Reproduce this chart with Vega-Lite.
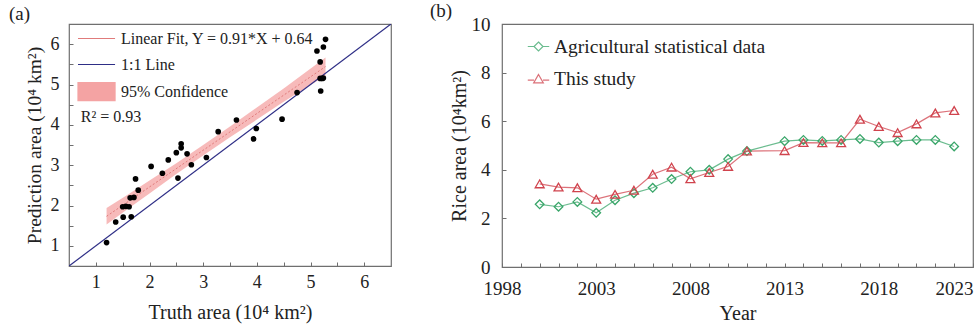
{
  "$schema": "https://vega.github.io/schema/vega-lite/v6.json",
  "padding": {"left": 8, "top": 1, "right": 0, "bottom": 0},
  "bounds": "flush",
  "resolve": {"scale": {"color": "independent", "shape": "independent"}, "legend": {"color": "independent", "shape": "independent"}},
  "config": {
    "font": "Liberation Serif",
    "view": {"stroke": "#6f6f6f", "strokeWidth": 1.2},
    "axis": {"grid": false, "domain": false, "labelFont": "Liberation Serif", "titleFont": "Liberation Serif", "labelColor": "#222", "titleColor": "#222", "titleFontWeight": "normal", "tickColor": "#6f6f6f", "tickSize": -4, "labelOverlap": false, "labelFlush": false},
    "legend": {"labelFont": "Liberation Serif", "labelColor": "#222", "labelLimit": 400},
    "title": {"font": "Liberation Serif", "fontWeight": "normal", "color": "#222"}
  },
  "datasets": {
    "scatter": [
      {"truth": 1.20, "pred": 1.08}, {"truth": 1.37, "pred": 1.59}, {"truth": 1.51, "pred": 1.71},
      {"truth": 1.50, "pred": 1.97}, {"truth": 1.56, "pred": 1.98}, {"truth": 1.62, "pred": 1.97},
      {"truth": 1.66, "pred": 1.72}, {"truth": 1.64, "pred": 2.19}, {"truth": 1.71, "pred": 2.20},
      {"truth": 1.74, "pred": 2.66}, {"truth": 1.79, "pred": 2.38}, {"truth": 2.03, "pred": 2.97},
      {"truth": 2.24, "pred": 2.80}, {"truth": 2.35, "pred": 3.13}, {"truth": 2.50, "pred": 3.31},
      {"truth": 2.53, "pred": 2.68}, {"truth": 2.59, "pred": 3.53}, {"truth": 2.59, "pred": 3.43},
      {"truth": 2.70, "pred": 3.28}, {"truth": 2.78, "pred": 3.01}, {"truth": 3.06, "pred": 3.19},
      {"truth": 3.28, "pred": 3.83}, {"truth": 3.62, "pred": 4.12}, {"truth": 3.94, "pred": 3.65},
      {"truth": 3.99, "pred": 3.91}, {"truth": 4.47, "pred": 4.14}, {"truth": 4.75, "pred": 4.80},
      {"truth": 5.12, "pred": 5.83}, {"truth": 5.18, "pred": 5.56}, {"truth": 5.19, "pred": 4.84},
      {"truth": 5.18, "pred": 5.15}, {"truth": 5.22, "pred": 5.15}, {"truth": 5.24, "pred": 5.16},
      {"truth": 5.24, "pred": 5.93}, {"truth": 5.28, "pred": 6.12}
    ],
    "band": [
      {"truth": 1.20, "lo": 1.53, "hi": 1.94}, {"truth": 1.60, "lo": 1.92, "hi": 2.27},
      {"truth": 2.00, "lo": 2.30, "hi": 2.62}, {"truth": 2.50, "lo": 2.78, "hi": 3.05},
      {"truth": 3.00, "lo": 3.24, "hi": 3.50}, {"truth": 3.50, "lo": 3.69, "hi": 3.96},
      {"truth": 4.00, "lo": 4.13, "hi": 4.43}, {"truth": 4.50, "lo": 4.57, "hi": 4.90},
      {"truth": 5.28, "lo": 5.22, "hi": 5.67}
    ],
    "fit": [{"truth": 1.20, "pred": 1.732}, {"truth": 5.28, "pred": 5.445}],
    "identity": [{"truth": 0.5, "pred": 0.5}, {"truth": 6.5, "pred": 6.5}],
    "rice": [
      {"year": 2000, "series": "Agricultural statistical data", "area": 2.58},
      {"year": 2001, "series": "Agricultural statistical data", "area": 2.48},
      {"year": 2002, "series": "Agricultural statistical data", "area": 2.68},
      {"year": 2003, "series": "Agricultural statistical data", "area": 2.23},
      {"year": 2004, "series": "Agricultural statistical data", "area": 2.75},
      {"year": 2005, "series": "Agricultural statistical data", "area": 3.04},
      {"year": 2006, "series": "Agricultural statistical data", "area": 3.26},
      {"year": 2007, "series": "Agricultural statistical data", "area": 3.62},
      {"year": 2008, "series": "Agricultural statistical data", "area": 3.92},
      {"year": 2009, "series": "Agricultural statistical data", "area": 4.00},
      {"year": 2010, "series": "Agricultural statistical data", "area": 4.44},
      {"year": 2011, "series": "Agricultural statistical data", "area": 4.77},
      {"year": 2013, "series": "Agricultural statistical data", "area": 5.18},
      {"year": 2014, "series": "Agricultural statistical data", "area": 5.23},
      {"year": 2015, "series": "Agricultural statistical data", "area": 5.19},
      {"year": 2016, "series": "Agricultural statistical data", "area": 5.23},
      {"year": 2017, "series": "Agricultural statistical data", "area": 5.27},
      {"year": 2018, "series": "Agricultural statistical data", "area": 5.12},
      {"year": 2019, "series": "Agricultural statistical data", "area": 5.18},
      {"year": 2020, "series": "Agricultural statistical data", "area": 5.23},
      {"year": 2021, "series": "Agricultural statistical data", "area": 5.23},
      {"year": 2022, "series": "Agricultural statistical data", "area": 4.96},
      {"year": 2000, "series": "This study", "area": 3.42},
      {"year": 2001, "series": "This study", "area": 3.29},
      {"year": 2002, "series": "This study", "area": 3.26},
      {"year": 2003, "series": "This study", "area": 2.79},
      {"year": 2004, "series": "This study", "area": 2.99},
      {"year": 2005, "series": "This study", "area": 3.16},
      {"year": 2006, "series": "This study", "area": 3.82},
      {"year": 2007, "series": "This study", "area": 4.11},
      {"year": 2008, "series": "This study", "area": 3.63},
      {"year": 2009, "series": "This study", "area": 3.89},
      {"year": 2010, "series": "This study", "area": 4.14},
      {"year": 2011, "series": "This study", "area": 4.77},
      {"year": 2013, "series": "This study", "area": 4.79},
      {"year": 2014, "series": "This study", "area": 5.12},
      {"year": 2015, "series": "This study", "area": 5.11},
      {"year": 2016, "series": "This study", "area": 5.11},
      {"year": 2017, "series": "This study", "area": 6.08},
      {"year": 2018, "series": "This study", "area": 5.78},
      {"year": 2019, "series": "This study", "area": 5.53},
      {"year": 2020, "series": "This study", "area": 5.89},
      {"year": 2021, "series": "This study", "area": 6.34},
      {"year": 2022, "series": "This study", "area": 6.44}
    ]
  },
  "hconcat": [
    {
      "width": 322,
      "height": 242,
      "title": {"text": "(a)", "anchor": "start", "frame": "group", "dx": -60, "fontSize": 19, "offset": 0},
      "resolve": {"axis": {"x": "independent", "y": "independent"}},
      "layer": [
        {
          "data": {"name": "band"},
          "mark": {"type": "area", "opacity": 0.75},
          "encoding": {
            "x": {"field": "truth", "type": "quantitative", "scale": {"domain": [0.5, 6.5], "nice": false}, "axis": {"orient": "bottom", "values": [1, 2, 3, 4, 5, 6], "title": "Truth area (10⁴ km²)", "labelFontSize": 18, "titleFontSize": 20, "labelPadding": 11, "titlePadding": 11}},
            "y": {"field": "lo", "type": "quantitative", "scale": {"domain": [0.5, 6.5], "nice": false}, "axis": {"orient": "left", "values": [1, 2, 3, 4, 5, 6], "title": "Prediction area (10⁴ km²)", "labelFontSize": 18, "titleFontSize": 19.5, "labelPadding": 14, "titlePadding": 6}},
            "y2": {"field": "hi"},
            "color": {
              "datum": "95% Confidence",
              "type": "nominal",
              "scale": {"domain": ["Linear Fit, Y = 0.91*X + 0.64", "1:1 Line", "95% Confidence"], "range": ["#e07b7b", "#2e2e86", "#f4a3a3"]},
              "legend": {
                "title": null, "orient": "none", "legendX": 8, "legendY": 4, "labelFontSize": 16, "symbolSize": 361, "symbolStrokeWidth": 1.2, "rowPadding": 7, "labelOffset": 23,
                "encode": {"symbols": {"update": {
                  "shape": {"signal": "datum.value === '95% Confidence' ? 'M-1,-0.95H2.9V0.95H-1Z' : 'M-1,0H2.9'"},
                  "fill": {"signal": "datum.value === '95% Confidence' ? '#f4a3a3' : 'transparent'"},
                  "stroke": {"signal": "datum.value === '95% Confidence' ? 'transparent' : (datum.value === '1:1 Line' ? '#2e2e86' : '#e07b7b')"},
                  "opacity": {"value": 1}
                }}}
              }
            }
          }
        },
        {
          "data": {"name": "identity"},
          "mark": {"type": "line", "strokeWidth": 1.2, "clip": true},
          "encoding": {
            "x": {"field": "truth", "type": "quantitative", "axis": {"orient": "bottom", "values": [1.5, 2.5, 3.5, 4.5, 5.5], "labels": false, "title": null}},
            "y": {"field": "pred", "type": "quantitative", "axis": {"orient": "left", "values": [1.5, 2.5, 3.5, 4.5, 5.5], "labels": false, "title": null}},
            "color": {
              "datum": "1:1 Line",
              "type": "nominal",
              "legend": {
                "title": null, "orient": "none", "legendX": 8, "legendY": 4, "labelFontSize": 16, "symbolSize": 361, "symbolStrokeWidth": 1.2, "rowPadding": 7, "labelOffset": 23,
                "encode": {"symbols": {"update": {
                  "shape": {"signal": "datum.value === '95% Confidence' ? 'M-1,-0.95H2.9V0.95H-1Z' : 'M-1,0H2.9'"},
                  "fill": {"signal": "datum.value === '95% Confidence' ? '#f4a3a3' : 'transparent'"},
                  "stroke": {"signal": "datum.value === '95% Confidence' ? 'transparent' : (datum.value === '1:1 Line' ? '#2e2e86' : '#e07b7b')"},
                  "opacity": {"value": 1}
                }}}
              }
            }
          }
        },
        {
          "data": {"name": "fit"},
          "mark": {"type": "line", "strokeWidth": 1, "strokeDash": [2, 2]},
          "encoding": {
            "x": {"field": "truth", "type": "quantitative", "axis": null},
            "y": {"field": "pred", "type": "quantitative", "axis": null},
            "color": {
              "datum": "Linear Fit, Y = 0.91*X + 0.64",
              "type": "nominal",
              "legend": {
                "title": null, "orient": "none", "legendX": 8, "legendY": 4, "labelFontSize": 16, "symbolSize": 361, "symbolStrokeWidth": 1.2, "rowPadding": 7, "labelOffset": 23,
                "encode": {"symbols": {"update": {
                  "shape": {"signal": "datum.value === '95% Confidence' ? 'M-1,-0.95H2.9V0.95H-1Z' : 'M-1,0H2.9'"},
                  "fill": {"signal": "datum.value === '95% Confidence' ? '#f4a3a3' : 'transparent'"},
                  "stroke": {"signal": "datum.value === '95% Confidence' ? 'transparent' : (datum.value === '1:1 Line' ? '#2e2e86' : '#e07b7b')"},
                  "opacity": {"value": 1}
                }}}
              }
            }
          }
        },
        {
          "data": {"name": "scatter"},
          "mark": {"type": "circle", "size": 32, "color": "#000000", "opacity": 1},
          "encoding": {
            "x": {"field": "truth", "type": "quantitative", "axis": null},
            "y": {"field": "pred", "type": "quantitative", "axis": null}
          }
        },
        {
          "data": {"values": [{"label": "R² = 0.93"}]},
          "mark": {"type": "text", "align": "left", "baseline": "middle", "fontSize": 16, "color": "#222"},
          "encoding": {
            "x": {"datum": 0.72, "type": "quantitative", "axis": null},
            "y": {"datum": 4.2, "type": "quantitative", "axis": null},
            "text": {"field": "label"}
          }
        }
      ]
    },
    {
      "width": 471,
      "height": 243,
      "title": {"text": "(b)", "anchor": "start", "frame": "group", "dx": -72, "fontSize": 19, "offset": -6},
      "data": {"name": "rice"},
      "resolve": {"axis": {"x": "independent", "y": "independent"}},
      "layer": [
        {
          "mark": {"type": "line", "strokeWidth": 1.2, "opacity": 0.75},
          "encoding": {
            "x": {"field": "year", "type": "quantitative", "scale": {"domain": [1998, 2023], "nice": false, "zero": false}, "axis": {"orient": "bottom", "values": [1998, 2003, 2008, 2013, 2018, 2023], "format": "d", "title": "Year", "labelFontSize": 19, "titleFontSize": 20, "labelPadding": 16, "titlePadding": 5, "labelAlign": {"condition": {"test": "datum.value === 2023", "value": "right"}, "value": "center"}}},
            "y": {"field": "area", "type": "quantitative", "scale": {"domain": [0, 10], "nice": false}, "axis": {"orient": "left", "values": [0, 2, 4, 6, 8, 10], "title": "Rice area (10⁴km²)", "labelFontSize": 19, "titleFontSize": 20, "labelPadding": 16, "titlePadding": 2}},
            "color": {
              "field": "series",
              "type": "nominal",
              "scale": {"domain": ["Agricultural statistical data", "This study"], "range": ["#3aa66a", "#d0434d"]}
            }
          }
        },
        {
          "transform": [{"filter": "datum.series === 'Agricultural statistical data'"}],
          "mark": {"type": "point", "shape": "diamond", "filled": false, "strokeWidth": 1.3, "opacity": 1, "size": 75},
          "encoding": {
            "x": {"field": "year", "type": "quantitative", "axis": {"orient": "bottom", "values": [1999, 2000, 2001, 2002, 2004, 2005, 2006, 2007, 2009, 2010, 2011, 2012, 2014, 2015, 2016, 2017, 2019, 2020, 2021, 2022], "labels": false, "title": null}},
            "y": {"field": "area", "type": "quantitative", "axis": null},
            "color": {"field": "series", "type": "nominal"}
          }
        },
        {
          "transform": [{"filter": "datum.series === 'This study'"}],
          "mark": {"type": "point", "shape": "triangle-up", "filled": false, "strokeWidth": 1.3, "opacity": 1, "size": 80},
          "encoding": {
            "x": {"field": "year", "type": "quantitative", "axis": null},
            "y": {"field": "area", "type": "quantitative", "axis": null},
            "color": {"field": "series", "type": "nominal"}
          }
        },
        {
          "transform": [{"filter": "datum.year < 0"}],
          "mark": {"type": "point", "filled": false, "strokeWidth": 1.2, "opacity": 1},
          "encoding": {
            "x": {"field": "year", "type": "quantitative", "axis": null},
            "y": {"field": "area", "type": "quantitative", "axis": null},
            "color": {
              "field": "series",
              "type": "nominal",
              "legend": {"title": null, "orient": "none", "legendX": 25, "legendY": 11, "labelFontSize": 19.5, "symbolSize": 460, "symbolStrokeWidth": 1.2, "rowPadding": 11.5, "labelOffset": 4, "symbolOpacity": 1}
            },
            "shape": {
              "field": "series",
              "type": "nominal",
              "scale": {"domain": ["Agricultural statistical data", "This study"], "range": ["M-1,0H-0.42M0.42,0H1M0,-0.42L0.42,0L0,0.42L-0.42,0Z", "M-1,0.1H-0.42M0.42,0.1H1M0,-0.42L0.45,0.36L-0.45,0.36Z"]},
              "legend": {"title": null, "orient": "none", "legendX": 25, "legendY": 11, "labelFontSize": 19.5, "symbolSize": 460, "symbolStrokeWidth": 1.2, "rowPadding": 11.5, "labelOffset": 4, "symbolOpacity": 1}
            }
          }
        }
      ]
    }
  ],
  "spacing": 111
}
